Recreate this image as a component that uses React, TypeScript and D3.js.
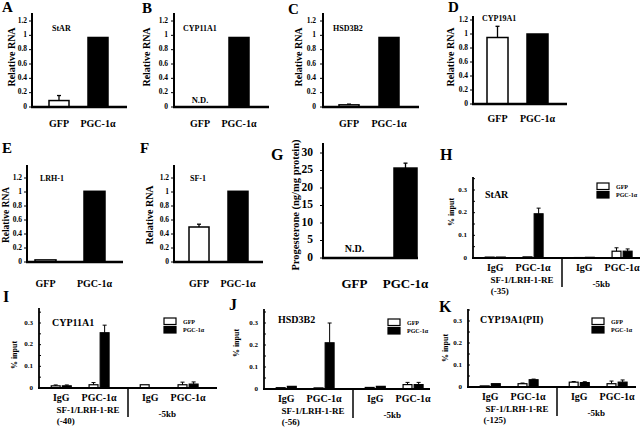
import React from "react";
import * as d3 from "d3";

const FONT = '"Liberation Serif", "Times New Roman", Times, serif';

// ---------- RNA / progesterone panels (A–G) ----------
const rnaGroups = ["GFP", "PGC-1α"];
const rnaTicks = [0, 0.2, 0.4, 0.6, 0.8, 1, 1.2];
const starRna = [0.09, 0.97];
const starRnaErr = [0.07, 0];
const cyp11a1Rna = [0, 0.97];
const cyp11a1RnaErr = [0, 0];
const cyp11a1Nd = [true, false];
const hsd3b2Rna = [0.03, 0.97];
const hsd3b2RnaErr = [0.01, 0];
const cyp19a1Rna = [0.95, 1.0];
const cyp19a1RnaErr = [0.16, 0];
const lrh1Rna = [0.03, 1.01];
const lrh1RnaErr = [0, 0];
const sf1Rna = [0.5, 1.01];
const sf1RnaErr = [0.04, 0];
const noNd = [false, false];
const progTicks = [0, 5, 10, 15, 20, 25, 30];
const progesterone = [0, 25.7];
const progesteroneErr = [0, 1.4];
const progNd = [true, false];

// ---------- ChIP panels (H–K) ----------
const chipRegions = ["SF-1/LRH-1-RE", "-5kb"];
const chipAntibodies = ["IgG", "PGC-1α"];
const chipSeries = ["GFP", "PGC-1α"];
const chipTicks = [0, 0.1, 0.2, 0.3];
const chipMinorTicks = [0, 0.05, 0.1, 0.15, 0.2, 0.25, 0.3, 0.35];
// order: region × antibody × series
const starChip = [0.004, 0.004, 0.005, 0.195, 0.002, 0.003, 0.03, 0.03];
const starChipErr = [0, 0, 0, 0.025, 0, 0, 0.015, 0.01];
const cyp11a1Chip = [0.01, 0.01, 0.015, 0.255, 0.015, 0, 0.015, 0.018];
const cyp11a1ChipErr = [0.004, 0.004, 0.01, 0.035, 0, 0, 0.012, 0.01];
const hsd3b2Chip = [0.006, 0.012, 0.005, 0.21, 0.007, 0.012, 0.02, 0.02];
const hsd3b2ChipErr = [0, 0, 0, 0.09, 0, 0, 0.01, 0.01];
const cyp19a1Chip = [0.005, 0.015, 0.015, 0.033, 0.022, 0.02, 0.015, 0.022];
const cyp19a1ChipErr = [0, 0, 0.003, 0.003, 0.003, 0.004, 0.012, 0.01];

type RnaLayout = {
  axisX: number; axisEnd: number; y0: number; yMaxPx: number; axisTop: number;
  gfpLeft: number; pgcLeft: number; barW: number;
  letterX: number; letterY: number; geneX: number; geneY: number;
  ylabelX: number; ylabelY: number; catY: number; tickGap: number;
  tickFont: number; catFont: number; ylabelFont: number; geneFont: number; letterFont: number;
  ndY: number; ndFont: number;
};

function RnaPanel(props: {
  letter: string; gene: string; ylabel: string; values: number[]; errors: number[];
  nd: boolean[]; ticks: number[]; L: RnaLayout;
}) {
  const { letter, gene, ylabel, values, errors, nd, ticks, L } = props;
  const y = d3.scaleLinear().domain([0, ticks[ticks.length - 1]]).range([L.y0, L.yMaxPx]);
  const step = L.pgcLeft - L.gfpLeft;
  const x = d3
    .scaleBand<string>()
    .domain(rnaGroups)
    .range([L.gfpLeft, L.pgcLeft + L.barW])
    .paddingInner(1 - L.barW / step)
    .paddingOuter(0);
  const bw = x.bandwidth();
  return (
    <g fontFamily={FONT} fontWeight={700} fill="#000">
      <text x={L.letterX} y={L.letterY} fontSize={L.letterFont}>{letter}</text>
      {gene && <text x={L.geneX} y={L.geneY} fontSize={L.geneFont}>{gene}</text>}
      <text
        transform={`translate(${L.ylabelX},${L.ylabelY}) rotate(-90)`}
        textAnchor="middle" dominantBaseline="middle" fontSize={L.ylabelFont}
      >{ylabel}</text>
      {ticks.map((t) => (
        <g key={t}>
          <line x1={L.axisX - 3} x2={L.axisX} y1={y(t)} y2={y(t)} stroke="#000" strokeWidth={1} />
          <text x={L.axisX - L.tickGap} y={y(t)} textAnchor="end" dominantBaseline="middle" fontSize={L.tickFont}>
            {String(t)}
          </text>
        </g>
      ))}
      {rnaGroups.map((g, i) => {
        const v = values[i];
        const e = errors[i];
        const bx = x(g)!;
        const cx = bx + bw / 2;
        return (
          <g key={g}>
            {!nd[i] && v > 0 && (
              <rect
                x={bx} y={y(v)} width={bw} height={L.y0 - y(v)}
                fill={i === 0 ? "#fff" : "#000"} stroke="#000" strokeWidth={1.5}
              />
            )}
            {!nd[i] && e > 0 && (
              <g stroke="#000" strokeWidth={1.3}>
                <line x1={cx} x2={cx} y1={y(v)} y2={y(v + e)} />
                <line x1={cx - 2} x2={cx + 2} y1={y(v + e)} y2={y(v + e)} />
              </g>
            )}
            {nd[i] && (
              <text x={cx} y={L.ndY} textAnchor="middle" fontSize={L.ndFont}>N.D.</text>
            )}
            <text x={cx} y={L.catY} textAnchor="middle" fontSize={L.catFont}>{g}</text>
          </g>
        );
      })}
      <line x1={L.axisX} x2={L.axisX} y1={L.y0 + 1} y2={L.axisTop} stroke="#000" strokeWidth={2} />
      <line x1={L.axisX - 1} x2={L.axisEnd} y1={L.y0} y2={L.y0} stroke="#000" strokeWidth={2.5} />
    </g>
  );
}

type ChipLayout = {
  axisX: number; W: number; xEnd: number; y0: number; y03: number; axisTop: number;
  letterX: number; letterY: number; geneX: number; geneY: number;
  legendX: number; legendY: number; ylabelX: number; ylabelY: number;
};

function ChipPanel(props: {
  letter: string; gene: string; site: string; values: number[]; errors: number[]; L: ChipLayout;
}) {
  const { letter, gene, site, values, errors, L } = props;
  const y = d3.scaleLinear().domain([0, 0.3]).range([L.y0, L.y03]);
  const xRegion = d3.scaleBand<string>().domain(chipRegions).range([L.axisX, L.axisX + 2 * L.W]);
  const xAb = d3.scalePoint<string>().domain(chipAntibodies).range([0.25 * L.W, 0.675 * L.W]);
  const xS = d3.scaleBand<string>().domain(chipSeries).range([-10, 10]).paddingInner(0.2);
  const bw = xS.bandwidth();
  const bars: any[] = [];
  chipRegions.forEach((r, ri) =>
    chipAntibodies.forEach((a, ai) =>
      chipSeries.forEach((s, si) => {
        const idx = ri * 4 + ai * 2 + si;
        bars.push({ r, a, s, si, v: values[idx], e: errors[idx], key: idx });
      })
    )
  );
  const divX = L.axisX + L.W;
  return (
    <g fontFamily={FONT} fontWeight={700} fill="#000">
      <text x={L.letterX} y={L.letterY} fontSize={16}>{letter}</text>
      <text x={L.geneX} y={L.geneY} fontSize={10}>{gene}</text>
      <text
        transform={`translate(${L.ylabelX},${L.ylabelY}) rotate(-90)`}
        textAnchor="middle" dominantBaseline="middle" fontSize={8}
      >% input</text>
      {chipMinorTicks.map((t) => (
        <line key={t} x1={L.axisX} x2={L.axisX + 2} y1={y(t)} y2={y(t)} stroke="#000" strokeWidth={1} />
      ))}
      {chipTicks.map((t) => (
        <text key={t} x={L.axisX - 6} y={y(t)} textAnchor="end" dominantBaseline="middle" fontSize={7}>
          {String(t)}
        </text>
      ))}
      {bars.map((b) => {
        const bx = xRegion(b.r)! + xAb(b.a)! + xS(b.s)!;
        const cx = bx + bw / 2;
        return (
          <g key={b.key}>
            {b.v > 0 && (
              <rect
                x={bx} y={y(b.v)} width={bw} height={L.y0 - y(b.v)}
                fill={b.si === 0 ? "#fff" : "#000"} stroke="#000" strokeWidth={1.2}
              />
            )}
            {b.e > 0 && (
              <g stroke="#000" strokeWidth={1}>
                <line x1={cx} x2={cx} y1={y(b.v)} y2={y(b.v + b.e)} />
                <line x1={cx - 2} x2={cx + 2} y1={y(b.v + b.e)} y2={y(b.v + b.e)} />
              </g>
            )}
          </g>
        );
      })}
      {chipRegions.map((r) =>
        chipAntibodies.map((a) => (
          <text key={r + a} x={xRegion(r)! + xAb(a)!} y={L.y0 + 13} textAnchor="middle" fontSize={10}>
            {a}
          </text>
        ))
      )}
      <text x={xRegion(chipRegions[0])! + 0.55 * L.W} y={L.y0 + 25} textAnchor="middle" fontSize={9}>
        {chipRegions[0]}
      </text>
      <text x={xRegion(chipRegions[0])! + 0.3 * L.W} y={L.y0 + 36} textAnchor="middle" fontSize={9}>
        {site}
      </text>
      <text x={xRegion(chipRegions[1])! + 0.44 * L.W} y={L.y0 + 29} textAnchor="middle" fontSize={9}>
        {chipRegions[1]}
      </text>
      <line x1={divX} x2={divX} y1={L.y0} y2={L.y0 + 29} stroke="#000" strokeWidth={1.5} />
      <line x1={L.axisX} x2={L.axisX} y1={L.y0} y2={L.axisTop} stroke="#000" strokeWidth={1.8} />
      <line x1={L.axisX - 1} x2={L.xEnd} y1={L.y0} y2={L.y0} stroke="#000" strokeWidth={2} />
      {chipSeries.map((s, i) => (
        <g key={s}>
          <rect
            x={L.legendX} y={L.legendY + i * 8.5} width={12} height={6.5}
            fill={i === 0 ? "#fff" : "#000"} stroke="#000" strokeWidth={1.2}
          />
          <text x={L.legendX + 19} y={L.legendY + i * 8.5 + 5.5} fontSize={6}>{s}</text>
        </g>
      ))}
    </g>
  );
}

const rnaBase = {
  tickFont: 7.5, catFont: 10, ylabelFont: 10, geneFont: 8, letterFont: 15, ndFont: 8.5,
};

export default function App() {
  return (
    <svg
      width={640} height={427} viewBox="0 0 640 427"
      style={{ position: "absolute", left: 0, top: 0, background: "#fff" }}
    >
      <rect width={640} height={427} fill="#fff" />
      <RnaPanel letter="A" gene="StAR" ylabel="Relative RNA" values={starRna} errors={starRnaErr} nd={noNd} ticks={rnaTicks}
        L={{ ...rnaBase, axisX: 32, axisEnd: 127, y0: 107, yMaxPx: 21, axisTop: 13, gfpLeft: 49, pgcLeft: 88, barW: 20,
          letterX: 2, letterY: 12, geneX: 52, geneY: 31, ylabelX: 13, ylabelY: 57, catY: 127, tickGap: 5, ndY: 103 }} />
      <RnaPanel letter="B" gene="CYP11A1" ylabel="Relative RNA" values={cyp11a1Rna} errors={cyp11a1RnaErr} nd={cyp11a1Nd} ticks={rnaTicks}
        L={{ ...rnaBase, axisX: 174, axisEnd: 269, y0: 107, yMaxPx: 21, axisTop: 13, gfpLeft: 190, pgcLeft: 229, barW: 20,
          letterX: 142, letterY: 13, geneX: 183, geneY: 31, ylabelX: 148, ylabelY: 57, catY: 127, tickGap: 6, ndY: 103 }} />
      <RnaPanel letter="C" gene="HSD3B2" ylabel="Relative RNA" values={hsd3b2Rna} errors={hsd3b2RnaErr} nd={noNd} ticks={rnaTicks}
        L={{ ...rnaBase, axisX: 323, axisEnd: 419, y0: 107, yMaxPx: 21, axisTop: 13, gfpLeft: 339, pgcLeft: 379, barW: 20,
          letterX: 288, letterY: 14, geneX: 333, geneY: 31, ylabelX: 300, ylabelY: 57, catY: 127, tickGap: 7, ndY: 103 }} />
      <RnaPanel letter="D" gene="CYP19A1" ylabel="Relative RNA" values={cyp19a1Rna} errors={cyp19a1RnaErr} nd={noNd} ticks={rnaTicks}
        L={{ ...rnaBase, axisX: 473, axisEnd: 567, y0: 104, yMaxPx: 20, axisTop: 16, gfpLeft: 487, pgcLeft: 527, barW: 21,
          letterX: 448, letterY: 12, geneX: 482, geneY: 21, ylabelX: 452, ylabelY: 57, catY: 122, tickGap: 5, ndY: 100 }} />
      <RnaPanel letter="E" gene="LRH-1" ylabel="Relative RNA" values={lrh1Rna} errors={lrh1RnaErr} nd={noNd} ticks={rnaTicks}
        L={{ ...rnaBase, ylabelFont: 9.5, axisX: 27, axisEnd: 123, y0: 262, yMaxPx: 178, axisTop: 165, gfpLeft: 35, pgcLeft: 84, barW: 21,
          letterX: 2, letterY: 153, geneX: 40, geneY: 181, ylabelX: 7, ylabelY: 215, catY: 287, tickGap: 5, ndY: 258 }} />
      <RnaPanel letter="F" gene="SF-1" ylabel="Relative RNA" values={sf1Rna} errors={sf1RnaErr} nd={noNd} ticks={rnaTicks}
        L={{ ...rnaBase, axisX: 174, axisEnd: 263, y0: 262, yMaxPx: 178, axisTop: 165, gfpLeft: 189, pgcLeft: 228, barW: 20,
          letterX: 140, letterY: 153, geneX: 190, geneY: 181, ylabelX: 151, ylabelY: 215, catY: 287, tickGap: 5, ndY: 258 }} />
      <RnaPanel letter="G" gene="" ylabel="Progesterone (ng/mg protein)" values={progesterone} errors={progesteroneErr} nd={progNd} ticks={progTicks}
        L={{ ...rnaBase, tickFont: 11.5, catFont: 13, ylabelFont: 10.5, letterFont: 16, ndFont: 10,
          axisX: 323, axisEnd: 418, y0: 258, yMaxPx: 153, axisTop: 143, gfpLeft: 343, pgcLeft: 394, barW: 23,
          letterX: 271, letterY: 160, geneX: 0, geneY: 0, ylabelX: 297, ylabelY: 205, catY: 288, tickGap: 10, ndY: 252 }} />

      <ChipPanel letter="H" gene="StAR" site="(-35)" values={starChip} errors={starChipErr}
        L={{ axisX: 473, W: 89, xEnd: 640, y0: 258, y03: 190, axisTop: 177, letterX: 440, letterY: 160,
          geneX: 485, geneY: 198, legendX: 597, legendY: 183, ylabelX: 452, ylabelY: 212 }} />
      <ChipPanel letter="I" gene="CYP11A1" site="(-40)" values={cyp11a1Chip} errors={cyp11a1ChipErr}
        L={{ axisX: 39, W: 89, xEnd: 217, y0: 388, y03: 323, axisTop: 308, letterX: 3, letterY: 302,
          geneX: 52, geneY: 326, legendX: 164, legendY: 318, ylabelX: 15, ylabelY: 355 }} />
      <ChipPanel letter="J" gene="HSD3B2" site="(-56)" values={hsd3b2Chip} errors={hsd3b2ChipErr}
        L={{ axisX: 264, W: 89, xEnd: 430, y0: 389, y03: 323, axisTop: 309, letterX: 229, letterY: 310,
          geneX: 278, geneY: 323, legendX: 388, legendY: 319, ylabelX: 237, ylabelY: 343 }} />
      <ChipPanel letter="K" gene="CYP19A1(PII)" site="(-125)" values={cyp19a1Chip} errors={cyp19a1ChipErr}
        L={{ axisX: 468, W: 89, xEnd: 636, y0: 387, y03: 321, axisTop: 309, letterX: 439, letterY: 312,
          geneX: 480, geneY: 323, legendX: 592, legendY: 318, ylabelX: 446, ylabelY: 348 }} />
    </svg>
  );
}
